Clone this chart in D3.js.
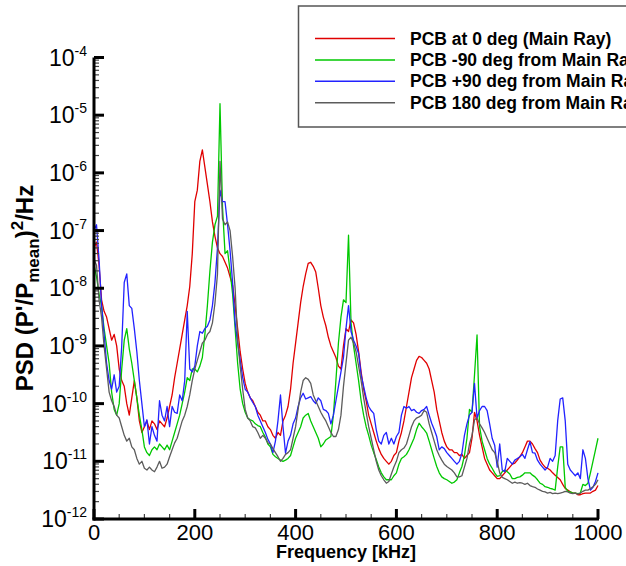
<!DOCTYPE html>
<html>
<head>
<meta charset="utf-8">
<script src="https://cdn.jsdelivr.net/npm/d3@7"></script>
<style>
body { margin: 0; background: #fff; }
text { font-family: Arial, "Liberation Sans", sans-serif; }
</style>
</head>
<body>
<div id="chart"></div>
<script>
var width = 626, height = 566;

// frequency grid, kHz (5 kHz sampling)
var freqKHz = d3.range(0, 1001, 5);

// log10 of PSD, one value per 5 kHz
var pcb0Log = [
  -7.3,-7.2,-7.6,-8.2,-8.4,-8.5,-8.7,-8.9,-8.8,-9.0,
  -9.4,-9.6,-9.7,-10.0,-10.2,-9.9,-9.6,-9.9,-10.3,-10.5,
  -10.4,-10.3,-10.45,-10.3,-10.35,-10.45,-10.3,-10.35,-10.4,-10.25,
  -10.05,-9.85,-9.55,-9.3,-9.05,-8.8,-8.55,-8.3,-7.97,-7.4,
  -6.5,-6.3,-5.8,-5.6,-5.9,-6.2,-6.5,-6.85,-7.1,-7.3,
  -7.4,-7.45,-7.55,-7.65,-7.8,-7.95,-8.3,-8.7,-9.1,-9.4,
  -9.65,-9.8,-9.9,-9.95,-10.05,-10.15,-10.2,-10.3,-10.3,-10.4,
  -10.45,-10.55,-10.6,-10.5,-10.55,-10.3,-10.2,-10.05,-9.75,-9.3,
  -8.95,-8.6,-8.25,-7.97,-7.75,-7.57,-7.55,-7.62,-7.72,-8.0,
  -8.3,-8.5,-8.65,-8.85,-9.0,-9.1,-9.2,-9.35,-9.4,-9.0,
  -8.7,-8.75,-8.55,-8.6,-8.8,-9.1,-9.45,-9.75,-9.95,-10.2,
  -10.35,-10.5,-10.65,-10.78,-10.88,-10.95,-11.0,-11.05,-11.0,-10.9,
  -10.85,-10.65,-10.5,-10.3,-10.05,-9.8,-9.55,-9.4,-9.25,-9.18,
  -9.2,-9.25,-9.3,-9.4,-9.6,-9.8,-10.1,-10.3,-10.5,-10.65,
  -10.75,-10.8,-10.8,-10.85,-10.85,-10.9,-10.88,-10.95,-10.9,-10.85,
  -10.6,-10.15,-10.3,-10.55,-10.75,-10.95,-11.05,-11.15,-11.2,-11.25,
  -11.3,-11.3,-11.25,-11.2,-11.15,-11.1,-11.05,-11.03,-10.98,-10.92,
  -10.85,-10.75,-10.65,-10.65,-10.7,-10.78,-10.85,-10.98,-11.05,-11.1,
  -11.12,-11.15,-11.2,-11.24,-11.28,-11.32,-11.4,-11.47,-11.5,-11.53,
  -11.55,-11.55,-11.58,-11.58,-11.56,-11.55,-11.55,-11.55,-11.52,-11.5,
  -11.42
];
var pcbM90Log = [
  -7.6,-7.8,-8.1,-8.3,-8.7,-9.0,-9.3,-9.8,-10.1,-10.2,
  -10.0,-9.4,-8.9,-8.7,-9.05,-9.3,-9.6,-9.9,-10.2,-10.45,
  -10.75,-10.85,-10.9,-10.8,-10.75,-10.8,-10.7,-10.75,-10.8,-10.72,
  -10.8,-10.65,-10.5,-10.35,-10.2,-10.0,-9.8,-9.55,-9.6,-9.4,
  -9.4,-9.45,-9.35,-9.2,-8.8,-8.3,-7.7,-7.2,-6.9,-6.75,
  -4.8,-6.6,-7.4,-7.35,-7.7,-8.1,-8.7,-9.3,-9.75,-10.0,
  -10.15,-10.25,-10.28,-10.3,-10.35,-10.38,-10.4,-10.5,-10.58,-10.7,
  -10.75,-10.88,-10.92,-10.95,-10.98,-11.0,-10.98,-10.95,-10.9,-10.75,
  -10.6,-10.5,-10.4,-10.25,-10.2,-10.17,-10.3,-10.4,-10.5,-10.6,
  -10.75,-10.7,-10.63,-10.6,-10.57,-10.2,-9.6,-8.95,-8.5,-8.2,
  -8.25,-7.08,-8.6,-9.0,-9.3,-9.6,-9.95,-10.2,-10.4,-10.55,
  -10.72,-10.85,-10.97,-11.1,-11.2,-11.27,-11.32,-11.32,-11.32,-11.25,
  -11.2,-11.05,-10.95,-10.92,-10.88,-10.8,-10.7,-10.6,-10.45,-10.34,
  -10.4,-10.45,-10.51,-10.65,-10.8,-10.95,-11.09,-11.2,-11.27,-11.3,
  -11.32,-11.35,-11.38,-11.36,-11.32,-11.2,-11.09,-10.9,-10.6,-10.1,
  -10.15,-9.5,-8.81,-10.4,-10.65,-10.8,-10.95,-11.05,-11.12,-11.2,
  -11.26,-11.25,-11.18,-11.15,-11.18,-11.22,-11.3,-11.3,-11.28,-11.27,
  -11.24,-11.2,-11.2,-11.2,-11.24,-11.27,-11.32,-11.38,-11.4,-11.44,
  -11.45,-11.47,-11.48,-11.5,-11.1,-10.75,-10.75,-11.45,-11.52,-11.53,
  -11.55,-11.55,-11.56,-11.55,-11.4,-11.42,-11.38,-11.2,-11.0,-10.8,
  -10.6
];
var pcbP90Log = [
  -7.0,-6.9,-7.5,-8.3,-8.8,-9.3,-9.6,-9.75,-9.5,-9.8,
  -9.7,-9.0,-7.9,-7.75,-8.3,-8.35,-8.7,-9.1,-9.6,-10.0,
  -10.4,-10.28,-10.7,-10.4,-10.55,-10.65,-9.95,-10.2,-10.3,-10.05,
  -10.4,-10.05,-10.15,-10.17,-9.85,-9.95,-9.6,-8.4,-9.4,-9.45,
  -9.35,-9.0,-8.75,-8.78,-8.7,-8.66,-8.55,-8.3,-7.9,-7.3,
  -6.3,-6.5,-6.5,-6.9,-7.35,-7.9,-8.6,-8.95,-9.24,-9.55,
  -9.75,-9.8,-9.9,-9.98,-10.05,-10.2,-10.3,-10.4,-10.5,-10.62,
  -10.7,-10.85,-10.65,-10.3,-9.85,-10.4,-10.86,-10.65,-10.55,-10.35,
  -10.25,-10.05,-9.9,-9.82,-9.92,-9.9,-9.88,-9.95,-10.0,-9.9,
  -9.95,-10.1,-10.12,-10.17,-10.35,-10.2,-9.95,-9.7,-9.45,-9.2,
  -8.7,-8.3,-8.75,-8.9,-9.0,-9.13,-9.5,-9.7,-9.9,-10.05,
  -10.12,-10.17,-10.45,-10.65,-10.7,-10.55,-10.5,-10.7,-10.6,-10.7,
  -10.57,-10.5,-10.2,-10.05,-10.08,-10.05,-10.12,-10.1,-10.15,-10.17,
  -10.12,-10.1,-10.05,-10.2,-10.34,-10.45,-10.57,-10.8,-10.75,-10.78,
  -10.85,-10.9,-10.95,-11.0,-11.05,-11.0,-10.86,-10.55,-10.35,-10.2,
  -10.15,-9.65,-10.25,-10.12,-10.05,-10.05,-10.12,-10.35,-10.6,-10.72,
  -11.1,-10.7,-11.15,-11.18,-10.95,-11.0,-11.05,-10.98,-10.95,-10.92,
  -10.88,-10.95,-10.8,-10.66,-10.85,-10.86,-10.98,-11.05,-11.1,-11.15,
  -11.1,-10.95,-11.0,-10.9,-10.3,-9.92,-9.9,-10.3,-11.05,-11.15,
  -11.2,-11.25,-11.2,-11.3,-10.8,-10.95,-11.3,-11.5,-11.45,-11.35,
  -11.2
];
var pcb180Log = [
  -7.5,-7.6,-8.2,-8.5,-9.0,-9.4,-9.8,-9.95,-10.05,-10.2,
  -10.25,-10.4,-10.55,-10.65,-10.6,-10.75,-10.8,-10.95,-11.05,-11.0,
  -11.12,-11.15,-11.1,-11.15,-11.18,-11.1,-11.0,-11.12,-11.1,-11.05,
  -10.92,-10.8,-10.68,-10.6,-10.45,-10.3,-10.2,-10.05,-9.85,-9.6,
  -9.4,-9.25,-9.1,-8.95,-8.9,-8.8,-8.75,-8.6,-8.26,-7.75,
  -5.8,-6.8,-6.9,-6.85,-7.0,-7.45,-8.0,-8.9,-9.35,-9.75,
  -10.1,-10.25,-10.3,-10.4,-10.42,-10.5,-10.6,-10.55,-10.6,-10.68,
  -10.7,-10.78,-10.85,-10.92,-11.0,-10.95,-10.88,-10.85,-10.8,-10.6,
  -10.4,-10.1,-9.8,-9.6,-9.55,-9.58,-9.65,-9.85,-9.95,-10.05,
  -10.15,-10.23,-10.3,-10.4,-10.5,-10.57,-10.57,-10.45,-10.2,-9.7,
  -9.3,-8.9,-8.85,-8.95,-9.1,-9.35,-9.6,-9.9,-10.15,-10.4,
  -10.6,-10.8,-11.0,-11.15,-11.25,-11.32,-11.38,-11.35,-11.22,-11.1,
  -11.0,-10.85,-10.8,-10.77,-10.7,-10.55,-10.4,-10.3,-10.25,-10.23,
  -10.2,-10.12,-10.15,-10.35,-10.5,-10.65,-10.8,-10.9,-10.98,-11.05,
  -11.09,-11.12,-11.15,-11.2,-11.27,-11.27,-11.25,-11.1,-10.95,-10.7,
  -10.55,-10.28,-10.25,-10.35,-10.42,-10.5,-10.6,-10.7,-10.8,-10.85,
  -11.0,-11.2,-11.28,-11.3,-11.32,-11.35,-11.38,-11.36,-11.38,-11.37,
  -11.38,-11.4,-11.38,-11.42,-11.44,-11.45,-11.48,-11.5,-11.52,-11.53,
  -11.55,-11.54,-11.56,-11.55,-11.56,-11.55,-11.54,-11.52,-11.53,-11.55,
  -11.56,-11.55,-11.57,-11.55,-11.52,-11.5,-11.5,-11.47,-11.44,-11.4,
  -11.32
];

var seriesNames = ["PCB at 0 deg (Main Ray)", "PCB -90 deg from Main Ray",
                   "PCB +90 deg from Main Ray", "PCB 180 deg from Main Ray"];
var seriesColors = ["#e00000", "#00c800", "#2222ff", "#5c5c5c"];
var seriesLogs = [pcb0Log, pcbM90Log, pcbP90Log, pcb180Log];

var xTicks = [0, 200, 400, 600, 800, 1000];
var yExponents = [-4, -5, -6, -7, -8, -9, -10, -11, -12];

var plotL = 94, plotR = 598, plotT = 57.5, plotB = 519;

var svg = d3.select("#chart").append("svg").attr("width", width).attr("height", height);
svg.append("rect").attr("width", width).attr("height", height).attr("fill", "#fff");

var x = d3.scaleLinear().domain([0, 1000]).range([plotL, plotR]);
var y = d3.scaleLog().domain([1e-12, 1e-4]).range([plotB, plotT]);

// lines
var line = d3.line()
    .x(function(d) { return x(d[0]); })
    .y(function(d) { return y(d[1]); });

seriesLogs.forEach(function(logs, i) {
    var pts = freqKHz.map(function(f, j) { return [f, Math.pow(10, logs[j])]; });
    svg.append("path").datum(pts)
        .attr("d", line)
        .attr("fill", "none")
        .attr("stroke", seriesColors[i])
        .attr("stroke-width", 1.3)
        .attr("stroke-linejoin", "round");
});

// y minor ticks
var minorY = y.ticks().filter(function(v) {
    return Math.abs(Math.log10(v) - Math.round(Math.log10(v))) > 1e-6;
});
svg.append("g").selectAll("line").data(minorY).enter().append("line")
    .attr("x1", plotL).attr("x2", plotL + 5)
    .attr("y1", function(d) { return y(d); }).attr("y2", function(d) { return y(d); })
    .attr("stroke", "#444").attr("stroke-width", 1.2);

// y major ticks + labels
var yMajor = svg.append("g").selectAll("g").data(yExponents).enter().append("g")
    .attr("transform", function(d) { return "translate(0," + y(Math.pow(10, d)) + ")"; });
yMajor.append("line").attr("x1", plotL).attr("x2", plotL + 10)
    .attr("stroke", "#000").attr("stroke-width", 3);
var yLab = yMajor.append("text").attr("x", 87).attr("y", 8)
    .attr("text-anchor", "end").attr("font-size", 23);
yLab.append("tspan").text("10");
yLab.append("tspan").attr("dy", -10).attr("font-size", 14).text(function(d) { return d; });

// x ticks
var minorX = d3.range(0, 1001, 50);
svg.append("g").selectAll("line").data(minorX).enter().append("line")
    .attr("x1", function(d) { return x(d); }).attr("x2", function(d) { return x(d); })
    .attr("y1", plotB).attr("y2", function(d) { return d % 200 === 0 ? plotB - 10 : plotB - 5; })
    .attr("stroke", function(d) { return d % 200 === 0 ? "#000" : "#444"; })
    .attr("stroke-width", function(d) { return d % 200 === 0 ? 3 : 1.2; });
svg.append("g").selectAll("text").data(xTicks).enter().append("text")
    .attr("x", function(d) { return x(d); }).attr("y", 540)
    .attr("text-anchor", "middle").attr("font-size", 22)
    .text(function(d) { return d; });

// axis lines
svg.append("line").attr("x1", plotL).attr("x2", plotL).attr("y1", plotT).attr("y2", plotB + 1.5)
    .attr("stroke", "#000").attr("stroke-width", 3);
svg.append("line").attr("x1", plotL - 1.5).attr("x2", plotR + 1).attr("y1", plotB).attr("y2", plotB)
    .attr("stroke", "#000").attr("stroke-width", 3);

// axis titles
svg.append("text").attr("x", (plotL + plotR) / 2).attr("y", 558)
    .attr("text-anchor", "middle").attr("font-size", 18).attr("font-weight", "bold")
    .text("Frequency [kHz]");

var yt = svg.append("text").attr("transform", "translate(33,288) rotate(-90)")
    .attr("text-anchor", "middle").attr("font-size", 24).attr("font-weight", "bold");
yt.append("tspan").text("PSD (P'/P");
yt.append("tspan").attr("dy", 6).attr("font-size", 17).text("mean");
yt.append("tspan").attr("dy", -6).text(")");
yt.append("tspan").attr("dy", -10).attr("font-size", 17).text("2");
yt.append("tspan").attr("dy", 10).text("/Hz");

// legend
svg.append("rect").attr("x", 298.5).attr("y", 6).attr("width", 340).attr("height", 121)
    .attr("fill", "#fff").attr("stroke", "#555").attr("stroke-width", 1.5);
var leg = svg.append("g").selectAll("g").data(seriesNames).enter().append("g")
    .attr("transform", function(d, i) { return "translate(0," + (38.5 + i * 21.4) + ")"; });
leg.append("line").attr("x1", 315).attr("x2", 395)
    .attr("stroke", function(d, i) { return seriesColors[i]; }).attr("stroke-width", 1.5);
leg.append("text").attr("x", 410).attr("y", 6)
    .attr("font-size", 17.5).attr("font-weight", "bold")
    .text(function(d) { return d; });
</script>
</body>
</html>
